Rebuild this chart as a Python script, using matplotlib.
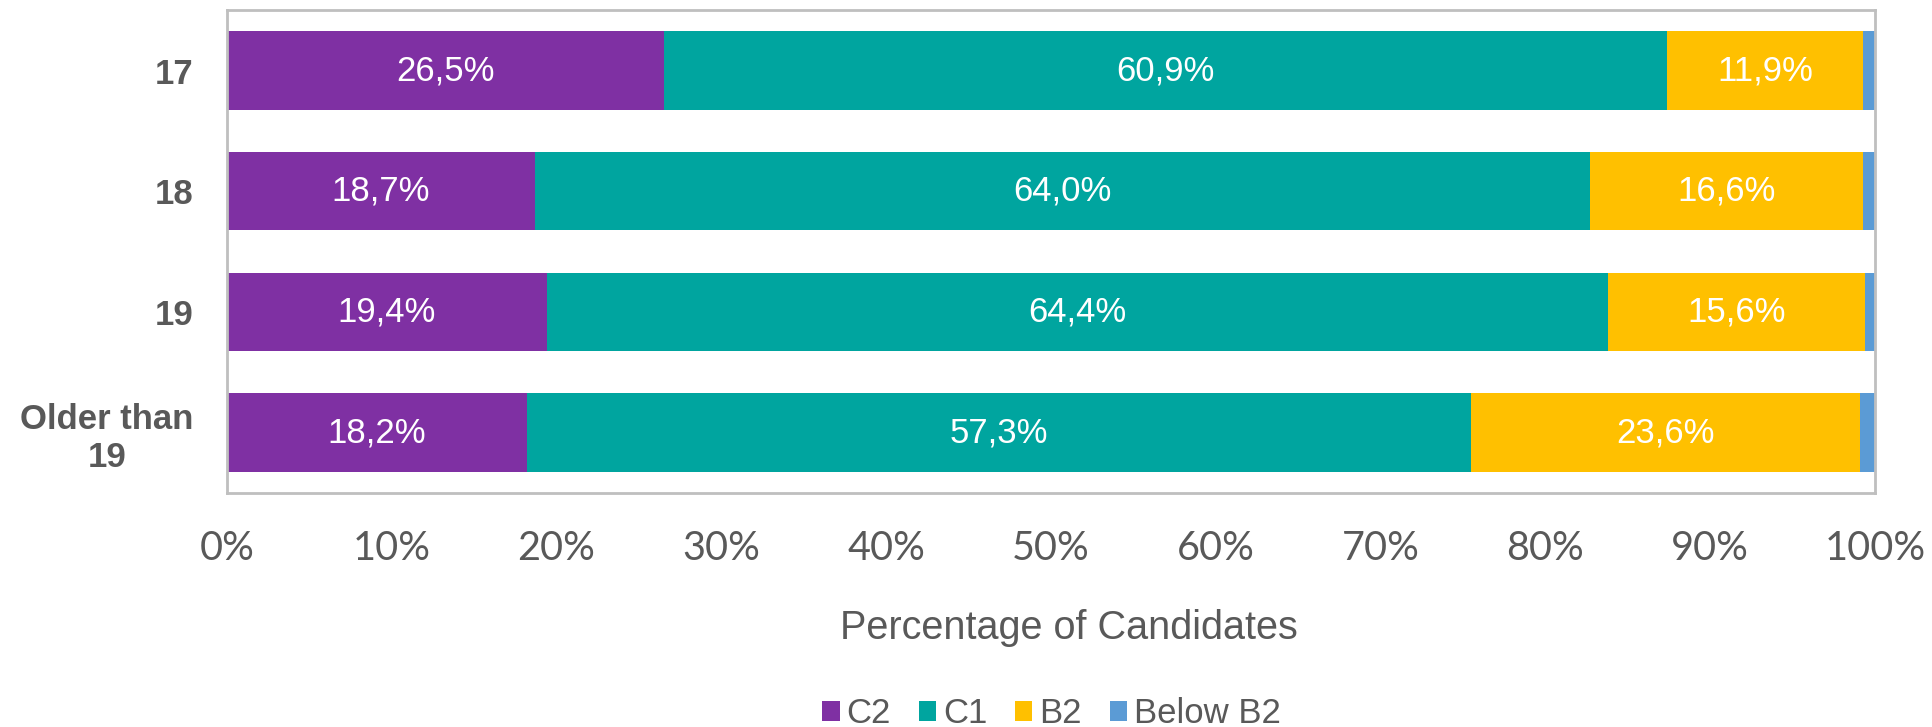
import matplotlib
matplotlib.use("Agg")
import matplotlib.pyplot as plt
import numpy as np

ages = ['17', '18', '19', 'Older than\n19']
levels = ['C2', 'C1', 'B2', 'Below B2']
c2 = [26.5, 18.7, 19.4, 18.2]
c1 = [60.9, 64.0, 64.4, 57.3]
b2 = [11.9, 16.6, 15.6, 23.6]
below_b2 = [0.7, 0.7, 0.6, 0.9]
colors = ['#7F30A3', '#00A59F', '#FFC000', '#5B9BD5']

series = [c2, c1, b2, below_b2]
grey = '#595959'

fig = plt.figure(figsize=(19.33, 7.27), dpi=100)
ax = fig.add_axes([0.1174, 0.322, 0.8526, 0.664])

y = np.arange(len(ages))
left = np.zeros(len(ages))
for idx, (vals, name, col) in enumerate(zip(series, levels, colors)):
    vals = np.array(vals)
    ax.barh(y, vals, left=left, height=0.65, color=col, label=name)
    # white value labels, none on the thin Below B2 slice
    if idx < 3:
        for yi, (l, v) in enumerate(zip(left, vals)):
            ax.text(l + v / 2, yi, ('%.1f%%' % v).replace('.', ','),
                    ha='center', va='center', color='white',
                    fontsize=25, family='Liberation Sans')
    left = left + vals

ax.set_xlim(0, 100)
ax.set_ylim(len(ages) - 0.5, -0.5)
ax.set_xticks(np.arange(0, 101, 10))
ax.set_xticklabels(['%d%%' % t for t in range(0, 101, 10)],
                   fontsize=28.5, color=grey, family='Lato')
ax.set_yticks(y)
ax.set_yticklabels(ages, fontsize=25, fontweight='bold', color=grey,
                   family='Liberation Sans', multialignment='center')
ax.tick_params(axis='x', length=0, pad=27)
ax.tick_params(axis='y', length=0, pad=24)

for s in ax.spines.values():
    s.set_color('#BFBFBF')
    s.set_linewidth(2)

ax.set_xlabel('Percentage of Candidates', fontsize=28.5, color=grey,
              family='Liberation Sans', labelpad=30)
ax.xaxis.label.set_x(0.511)

leg = fig.legend(loc='center', bbox_to_anchor=(0.544, 0.018), ncol=4,
                 frameon=False, handlelength=0.5, handleheight=0.5,
                 handletextpad=0.2, columnspacing=0.8,
                 prop={'family': 'Liberation Sans', 'size': 25})
for t in leg.get_texts():
    t.set_color(grey)

plt.savefig('out.png', dpi=100)
